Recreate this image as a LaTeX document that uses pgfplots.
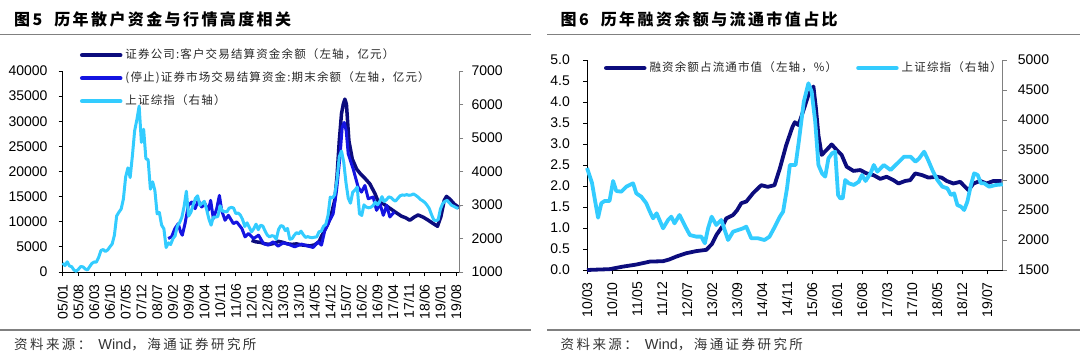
\documentclass[border=0pt]{standalone}
\usepackage{fontspec}
\usepackage{pgfplots}
\pgfplotsset{compat=1.18}
\setmainfont{Liberation Sans}
\newfontfamily\cjkleg{Noto Sans CJK SC}[LetterSpace=10]
\newfontfamily\cjktitle{Noto Sans CJK SC}[LetterSpace=15]
\newfontfamily\cjksrc{Noto Sans CJK SC}[LetterSpace=18]
\newcommand\legfont{\cjkleg\fontsize{11.5bp}{13bp}\selectfont}
\newcommand\titlefont{\cjktitle\bfseries\fontsize{16bp}{18bp}\selectfont}
\newcommand\srcfont{\cjksrc\fontsize{13.5bp}{15bp}\selectfont}
\newcommand\ticksize{\fontsize{14bp}{16bp}\selectfont}
\definecolor{navyc}{RGB}{12,12,125}
\definecolor{bluec}{RGB}{20,20,225}
\definecolor{cyanc}{RGB}{51,204,255}
\definecolor{rulec}{RGB}{128,128,128}
\definecolor{axgray}{RGB}{128,128,128}
\pgfplotsset{
  base/.style={
    scale only axis, clip=false,
    scaled ticks=false,
    tick align=outside, major tick length=4bp,
    tick label style={font=\ticksize},
    xticklabel style={rotate=90, anchor=east, inner sep=0pt},
    xticklabel shift=8bp,
    every axis plot/.append style={line join=round},
  },
  leg/.style={
    legend style={draw=none, fill=none, inner sep=0pt, outer sep=0pt,
      font=\legfont, text=black!85,
      nodes={inner xsep=3bp, inner ysep=0pt, text height=8.5bp, text depth=2.5bp}},
    legend cell align=left,
    legend image code/.code={\draw[##1, line width=4.5bp, line cap=round] (0bp,0bp) -- (38bp,0bp);},
  },
}
\begin{document}
\begin{tikzpicture}[x=1bp,y=1bp]
\useasboundingbox (0,0) rectangle (1080,-359);
% titles and rules
\node[anchor=west, inner sep=0pt] at (14,-19) {\titlefont 图5\hspace{12bp}历年散户资金与行情高度相关};
\node[anchor=west, inner sep=0pt] at (560.5,-19) {\titlefont 图6\hspace{12bp}历年融资余额与流通市值占比};
\draw[rulec, line width=1.8bp] (0,-34.5) -- (531,-34.5);
\draw[rulec, line width=1.8bp] (547,-34.5) -- (1080,-34.5);
\draw[rulec, line width=1.2bp] (0,-330) -- (531,-330);
\draw[rulec, line width=1.2bp] (547,-330) -- (1080,-330);
\node[anchor=west, inner sep=0pt, text=black!80] at (14,-344.5) {\srcfont 资料来源：\hspace{7bp}{\rmfamily\fontsize{14.5bp}{16bp}\selectfont Wind}，海通证券研究所};
\node[anchor=west, inner sep=0pt, text=black!80] at (560.5,-344.5) {\srcfont 资料来源：\hspace{7bp}{\rmfamily\fontsize{14.5bp}{16bp}\selectfont Wind}，海通证券研究所};

%================ LEFT CHART ================
\begin{axis}[base,
  at={(62.7bp,-272bp)}, anchor=south west,
  width=396.6bp, height=201bp,
  xmin=0, xmax=176.4, ymin=0, ymax=40000,
  axis x line*=bottom, axis y line*=left,
  axis line style={black, line width=0.9bp},
  every tick/.style={black, line width=0.8bp},
  xtick={0,7,...,175},
  xticklabels={05/01,05/08,06/03,06/10,07/05,07/12,08/07,09/02,09/09,10/04,10/11,11/06,12/01,12/08,13/03,13/10,14/05,14/12,15/07,16/02,16/09,17/04,17/11,18/06,19/01,19/08},
  ytick={0,5000,10000,15000,20000,25000,30000,35000,40000},
  yticklabels={0,5000,10000,15000,20000,25000,30000,35000,40000},
  yticklabel style={anchor=east, inner sep=0pt},
  yticklabel shift=11bp,
]
% 证券公司:客户交易结算资金余额
\addplot[navyc, line width=3.5bp] coordinates {
(84,6300)(86,6000)(88,5900)(90,5600)(92,5500)(94,5700)(96,6100)(98,5900)(100,5600)
(102,5500)(104,5600)(106,5400)(108,5300)(110,5200)(112,5400)(114,6000)(115,7000)
(116.5,8300)(118,9600)(119.5,11500)(121,14300)(122,19000)(123,26000)(124,31500)
(124.8,33400)(125.5,34400)(126.2,33400)(127.3,26100)(128.8,22500)(130.7,20500)
(132.5,19500)(134.5,18600)(136.6,17550)(138.9,15600)(140.4,13900)(142.6,13600)
(144.8,12900)(147.7,12000)(150.7,11100)(152.5,10800)(154.4,10300)(156.6,11000)
(158.1,11350)(160.4,10900)(162.6,10300)(164.8,9640)(166.7,9100)(168.2,11000)
(169.7,14250)(170.7,15050)(172.2,14500)(174.2,13500)(176.4,12800)
};
% (停止)证券市场交易结算资金:期末余额
\addplot[bluec, line width=3bp] coordinates {
(46.9,6666)(48.4,6990)(49.9,8646)(51.4,9636)(52.4,7986)(53.2,7326)(54.4,9636)
(55.9,13266)(57.4,13926)(58.9,12606)(60.3,14256)(61.8,12936)(63.3,13596)(64.8,12276)
(65.8,14256)(67,10626)(68.5,12606)(69.7,15246)(70.7,12276)(72.2,10296)(73.7,11286)
(75.9,9636)(77.4,9966)(79.7,8646)(81.1,6996)(82.6,7656)(84.9,6666)(87.1,7326)
(89.3,5676)(91.4,5346)(93.6,6006)(95.8,5148)(98.1,5808)(100.3,5544)(103.2,5016)
(106.2,5544)(109.2,5148)(111.4,4884)(113.6,6006)(115.1,5346)(116.6,8316)(118.8,10296)
(120.3,11616)(121.8,16236)(123.3,22836)(124.3,28776)(125.2,29766)(126.1,28116)
(127,23496)(129.2,20526)(131.4,16896)(132.9,15906)(134.4,17226)(135.9,14586)
(138.1,14916)(139.6,12276)(141.1,13596)(142.6,11286)(144.1,13266)(145.5,10956)(147.5,11946)
};
\end{axis}
\begin{axis}[base, leg,
  at={(62.7bp,-272bp)}, anchor=south west,
  width=396.6bp, height=201bp,
  xmin=0, xmax=176.4, ymin=1000, ymax=7000,
  axis x line=none, axis y line*=right,
  axis line style={axgray, line width=0.9bp},
  every tick/.style={axgray, line width=0.8bp},
  ytick={1000,2000,3000,4000,5000,6000,7000},
  yticklabels={1000,2000,3000,4000,5000,6000,7000},
  yticklabel style={anchor=west, inner sep=0pt, text=black},
  yticklabel shift=8bp,
  legend style={at={(axis description cs:0.0436,1.106)}, anchor=north west, row sep=12bp},
]
\addlegendimage{navyc, line width=3.5bp}
\addlegendentry{证券公司:客户交易结算资金余额（左轴，亿元）}
\addlegendimage{bluec, line width=3bp}
\addlegendentry{(停止)证券市场交易结算资金:期末余额（左轴，亿元）}
\addplot[cyanc, line width=3bp] coordinates {
(0,1267)(1,1191)(2,1306)(3,1181)(4,1159)(5,1060)(6,1020)(7,1083)(8,1162)(9,1155)(10,1092)(11,1060)(12,1161)
(13,1258)(14,1299)(15,1298)(16,1440)(17,1641)(18,1672)(19,1612)(20,1658)(21,1752)(22,1837)(23,2099)(24,2675)
(25,2786)(26,2881)(27,3183)(28,3841)(29,4109)(30,3820)(31,4471)(32,5218)(33,5552)(34,5954)(35,4871)(36,5262)
(37,4383)(38,4348)(39,3473)(40,3693)(41,3433)(42,2736)(43,2775)(44,2397)(45,2293)(46,1729)(47,1871)(48,1821)
(49,1991)(50,2082)(51,2373)(52,2477)(53,2633)(54,2959)(55,3412)(56,2668)(57,2779)(58,2996)(59,3195)(60,3277)
(61,2989)(62,3051)(63,3110)(64,2870)(65,2592)(66,2398)(67,2638)(68,2639)(69,2656)(70,2979)(71,2820)(72,2808)
(73,2791)(74,2905)(75,2928)(76,2911)(77,2743)(78,2762)(79,2701)(80,2568)(81,2359)(82,2468)(83,2333)(84,2199)
(85,2292)(86,2428)(87,2262)(88,2396)(89,2373)(90,2225)(91,2103)(92,2047)(93,2086)(94,2069)(95,1980)(96,2269)
(97,2385)(98,2365)(99,2237)(100,2301)(101,1979)(102,1994)(103,2098)(104,2175)(105,2141)(106,2220)(107,2116)
(108,2033)(109,2056)(110,2033)(111,2026)(112,2039)(113,2048)(114,2202)(115,2217)(116,2364)(117,2420)(118,2683)(119,3235)
(120,3210)(121,3310)(122,3748)(123,4442)(124,4612)(125,4277)(126,3664)(127,3206)(128,3053)(129,3383)(130,3445)(131,3539)
(132,2738)(133,2688)(134,3004)(135,2938)(136,2917)(137,2930)(138,2979)(139,3085)(140,3005)(141,3100)(142,3250)(143,3104)
(144,3159)(145,3242)(146,3223)(147,3155)(148,3117)(149,3192)(150,3273)(151,3300)(152,3290)(153,3310)(154,3290)(155,3300)
(156,3330)(157,3290)(158,3240)(159,3170)(160,3130)(161,3080)(162,3000)(163,2900)(164,2720)(165,2560)(166,2530)(167,2560)
(168,2880)(169,3040)(170,3110)(171,3140)(172,3060)(173,2990)(174,2960)(175,2920)(176,2900)
};
\addlegendentry{上证综指（右轴）}
\end{axis}

%================ RIGHT CHART ================
\begin{axis}[base,
  at={(587bp,-270bp)}, anchor=south west,
  width=415.7bp, height=210bp,
  xmin=0, xmax=116.4, ymin=0, ymax=5,
  axis x line*=bottom, axis y line*=left,
  axis line style={black, line width=0.9bp},
  every tick/.style={black, line width=0.8bp},
  xtick={0,7,...,112},
  xticklabels={10/03,10/10,11/05,11/12,12/07,13/02,13/09,14/04,14/11,15/06,16/01,16/08,17/03,17/10,18/05,18/12,19/07},
  ytick={0,0.5,1,1.5,2,2.5,3,3.5,4,4.5,5},
  yticklabels={0.0,0.5,1.0,1.5,2.0,2.5,3.0,3.5,4.0,4.5,5.0},
  yticklabel style={anchor=east, inner sep=0pt},
  yticklabel shift=13bp,
]
\addplot[navyc, line width=3.8bp] coordinates {
(0,0.00)(3,0.01)(6.3,0.02)(10,0.08)(13.8,0.13)(17.6,0.20)(21.3,0.21)(23,0.25)(25,0.32)
(27.8,0.40)(30.6,0.45)(33.4,0.48)(35,0.62)(36.2,0.83)(38,1.05)(39,1.23)(40.9,1.31)(42,1.42)
(43.2,1.59)(44.6,1.63)(46.5,1.83)(48.8,2.02)(50.6,1.98)(52.5,2.02)(54,2.42)(55.8,2.98)
(57.5,3.40)(58.2,3.52)(59.2,3.45)(60.6,3.80)(62,4.17)(63.4,4.37)(64.1,3.85)(64.8,3.21)
(65.7,2.74)(67.1,2.86)(68.5,2.99)(69.9,2.86)(71.3,2.74)(72.7,2.46)(74.6,2.36)(76.5,2.38)
(78.3,2.30)(80.2,2.26)(82.1,2.17)(83.9,2.22)(85.8,2.14)(87.2,2.06)(89.1,2.12)(90.5,2.14)
(91.9,2.30)(93.8,2.26)(95.6,2.20)(97.9,2.22)(99.3,2.20)(100.7,2.12)(102.6,2.06)(104.5,2.10)
(105.4,2.02)(106.8,1.90)(108.2,2.06)(110.1,2.12)(111.9,2.06)(113.8,2.12)(116.1,2.12)
};
\end{axis}
\begin{axis}[base, leg,
  at={(587bp,-270bp)}, anchor=south west,
  width=415.7bp, height=210bp,
  xmin=0, xmax=116.4, ymin=1500, ymax=5000,
  axis x line=none, axis y line*=right,
  axis line style={axgray, line width=0.9bp},
  every tick/.style={axgray, line width=0.8bp},
  ytick={1500,2000,2500,3000,3500,4000,4500,5000},
  yticklabels={1500,2000,2500,3000,3500,4000,4500,5000},
  yticklabel style={anchor=west, inner sep=0pt, text=black},
  yticklabel shift=11bp,
  legend columns=2,
  legend style={at={(axis description cs:0.0409,0.988)}, anchor=north west,
    /tikz/every even column/.append style={column sep=16bp}},
]
\addlegendimage{navyc, line width=3.8bp}
\addlegendentry{融资余额占流通市值（左轴，\%）}
\addplot[cyanc, line width=3.8bp] coordinates {
(0,3200)(1.4,2950)(2.3,2639)(3.1,2372)(4,2612)(4.9,2650)(6.3,2650)(7.3,2984)(8.2,2817)
(9.6,2806)(11,2889)(12.9,2945)(13.8,2778)(15.2,2722)(16.6,2612)(17.6,2472)(18.5,2361)
(19.5,2445)(21.3,2195)(22.7,2334)(23.6,2389)(24.5,2278)(25.9,2417)(27.3,2250)(28.8,2083)
(30.6,2056)(32,2056)(33,1945)(33.9,2195)(34.9,2389)(36.2,2250)(37.6,2334)(39.5,2000)
(40.9,2139)(42.3,2167)(43.7,2195)(44.6,2222)(46,2028)(47.9,2028)(49.7,2000)(51.1,2056)
(52.6,2222)(54,2389)(54.9,2472)(56,2861)(56.8,3250)(58.4,3250)(59.3,3639)(60.7,4305)
(62,4612)(62.9,4472)(63.9,3972)(64.8,3250)(65.8,3111)(66.7,3056)(67.6,3361)(68.6,3444)
(69.5,3472)(70.3,2750)(70.9,2695)(71.6,2695)(72.3,3000)(73.3,2945)(74.7,2917)(76.1,2972)
(77,3083)(78,2984)(79.4,3111)(80.3,3250)(81.3,3139)(83.1,3250)(85,3167)(86.9,3278)
(88.8,3389)(90.6,3389)(92,3306)(93,3361)(94.4,3472)(95.3,3361)(96.7,3167)(98.1,3000)
(99.5,2889)(100.9,2861)(101.9,2750)(102.8,2778)(103.7,2583)(104.7,2556)(105.6,2500)
(106.5,2639)(107.5,2917)(108.4,3111)(109.4,3083)(110.3,2945)(111.2,2945)(112.6,2889)
(114.5,2917)(116.4,2928)
};
\addlegendentry{上证综指（右轴）}
\end{axis}
\end{tikzpicture}
\end{document}
